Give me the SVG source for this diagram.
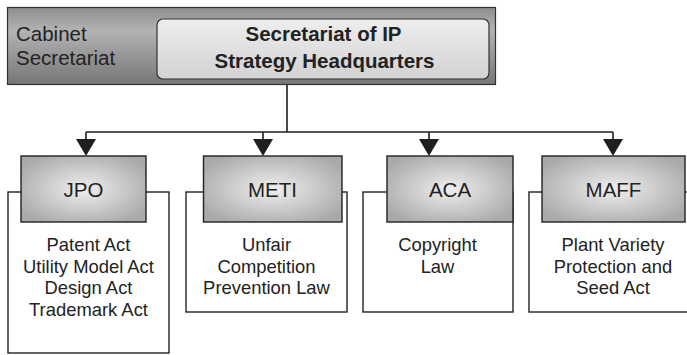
<svg xmlns="http://www.w3.org/2000/svg" width="687" height="355" viewBox="0 0 687 355">
  <defs>
    <linearGradient id="bannerFill" x1="0" y1="0" x2="0" y2="1">
      <stop offset="0" stop-color="#8e8e8e"/>
      <stop offset="0.3" stop-color="#b3b3b3"/>
      <stop offset="1" stop-color="#767676"/>
    </linearGradient>
    <linearGradient id="hqFill" x1="0" y1="0" x2="0" y2="1">
      <stop offset="0" stop-color="#eeeeee"/>
      <stop offset="1" stop-color="#d2d2d2"/>
    </linearGradient>
    <radialGradient id="agencyFill" cx="0.5" cy="0.5" r="0.6">
      <stop offset="0" stop-color="#efefef"/>
      <stop offset="1" stop-color="#a9a9a9"/>
    </radialGradient>
    <!-- filled triangle head; base sits on the end of the line -->
    <marker id="arrow" viewBox="0 0 17 20" refX="0" refY="10" markerWidth="17" markerHeight="20" markerUnits="userSpaceOnUse" orient="auto">
      <path d="M0,0 L17,10 L0,20 Z" fill="#1e1e1e"/>
    </marker>
    <style>
      .sans { font-family: "Liberation Sans", Arial, sans-serif; fill: #222; }
      .frame { fill: #fff; stroke: #222; stroke-width: 1.4; }
      .agency { fill: url(#agencyFill); stroke: #222; stroke-width: 1.4; }
      .label { font-size: 20.5px; text-anchor: middle; }
      .body { font-size: 18.4px; text-anchor: middle; }
      .wire { fill: none; stroke: #1e1e1e; stroke-width: 1.6; }
    </style>
  </defs>

  <!-- Cabinet Secretariat band with the headquarters box -->
  <g id="cabinet">
    <rect x="7.5" y="7.5" width="488" height="77" fill="url(#bannerFill)" stroke="#333" stroke-width="1.2"/>
    <text class="sans" x="16" y="41" font-size="20.5">Cabinet</text>
    <text class="sans" x="16" y="65" font-size="20.5">Secretariat</text>
  </g>
  <g id="hq">
    <rect x="157" y="19" width="332" height="60" rx="6" fill="url(#hqFill)" stroke="#333" stroke-width="1.2"/>
    <text class="sans" x="323.5" y="41" font-size="20.5" font-weight="bold" text-anchor="middle">Secretariat of IP</text>
    <text class="sans" x="324.5" y="68" font-size="20.5" font-weight="bold" text-anchor="middle">Strategy Headquarters</text>
  </g>

  <!-- Connectors from the headquarters down to each agency -->
  <g id="connectors">
    <path class="wire" d="M287,85 V132"/>
    <path class="wire" d="M86,132 H613"/>
    <path class="wire" d="M86,132 V139" marker-end="url(#arrow)"/>
    <path class="wire" d="M263,132 V139" marker-end="url(#arrow)"/>
    <path class="wire" d="M429,132 V139" marker-end="url(#arrow)"/>
    <path class="wire" d="M613,132 V139" marker-end="url(#arrow)"/>
  </g>

  <!-- Agencies -->
  <g id="jpo">
    <rect class="frame" x="8" y="192" width="161" height="161"/>
    <rect class="agency" x="21" y="156" width="125" height="66"/>
    <text class="sans label" x="83.5" y="197">JPO</text>
    <text class="sans body" x="88.5" y="251">Patent Act</text>
    <text class="sans body" x="88.5" y="273">Utility Model Act</text>
    <text class="sans body" x="88.5" y="294">Design Act</text>
    <text class="sans body" x="88.5" y="316">Trademark Act</text>
  </g>

  <g id="meti">
    <rect class="frame" x="186" y="192" width="161" height="120"/>
    <rect class="agency" x="203.5" y="156" width="138.5" height="66"/>
    <text class="sans label" x="272.5" y="197">METI</text>
    <text class="sans body" x="266.5" y="251">Unfair</text>
    <text class="sans body" x="266.5" y="273">Competition</text>
    <text class="sans body" x="266.5" y="294">Prevention Law</text>
  </g>

  <g id="aca">
    <rect class="frame" x="363" y="192" width="150" height="120"/>
    <rect class="agency" x="387" y="156" width="126" height="66"/>
    <text class="sans label" x="450" y="197">ACA</text>
    <text class="sans body" x="437.5" y="251">Copyright</text>
    <text class="sans body" x="437.5" y="273">Law</text>
  </g>

  <g id="maff">
    <rect class="frame" x="529" y="192" width="180" height="120"/>
    <rect class="agency" x="542" y="156" width="143" height="66"/>
    <text class="sans label" x="613.5" y="197">MAFF</text>
    <text class="sans body" x="613" y="251">Plant Variety</text>
    <text class="sans body" x="613" y="273">Protection and</text>
    <text class="sans body" x="613" y="294">Seed Act</text>
  </g>
</svg>
